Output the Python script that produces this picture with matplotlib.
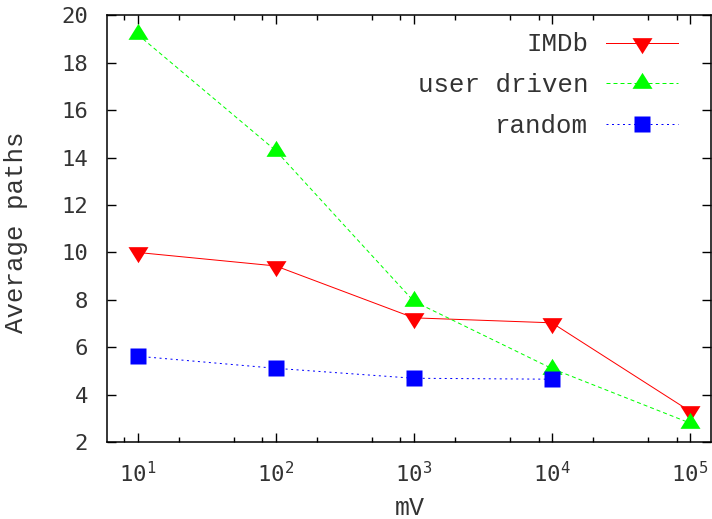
import math
import matplotlib
matplotlib.use("Agg")
import matplotlib.pyplot as plt
from matplotlib.ticker import LogLocator, FixedLocator, NullFormatter, FuncFormatter

# values
mv = [10, 100, 1000, 10000, 100000]
imdb = [10.0, 9.43, 7.24, 7.03, 3.3]
user_driven = [19.2, 14.3, 7.94, 5.1, 2.8]
mv_random = [10, 100, 1000, 10000]
random_paths = [5.62, 5.11, 4.69, 4.65]

PX = 72.0 / 100  # points per pixel at dpi 100

# gnuplot-like triangles, centred on their centroid, 20px wide, 16px tall
tri_up = [(0, 10.67), (-10, -5.33), (10, -5.33)]
tri_down = [(0, -10.67), (-10, 5.33), (10, 5.33)]
tri_ms = 2 * 10.67 * PX

tick_font = "DejaVu Sans Mono"
label_font = "Liberation Mono"
text_col = "#333333"

fig = plt.figure(figsize=(7.12, 5.19), dpi=100)
ax = fig.add_axes([107 / 712, 1 - 442 / 519, (711 - 107) / 712, (442 - 15.5) / 519])

ax.plot(mv, imdb, color="#ff0000", lw=PX, marker=tri_down, ms=tri_ms,
        mec="none", label="IMDb")
ax.plot(mv, user_driven, color="#00ff00", lw=PX, marker=tri_up, ms=tri_ms,
        mec="none", dashes=(4, 3), label="user driven")
ax.plot(mv_random, random_paths, color="#0000ff", lw=PX, marker="s",
        ms=16 * PX, mec="none", dashes=(2, 3.5), label="random")

ax.set_xscale("log")
ax.set_xlim(6, 1.42e5)
ax.set_ylim(2, 20)

ax.xaxis.set_major_locator(FixedLocator(mv))
ax.xaxis.set_minor_locator(LogLocator(base=10, subs=(2, 5, 8)))
ax.xaxis.set_minor_formatter(NullFormatter())
ax.xaxis.set_major_formatter(FuncFormatter(
    lambda v, p: r"$\mathregular{10^{%d}}$" % round(math.log10(v))))
ax.set_yticks(range(2, 21, 2))

ax.tick_params(which="both", direction="in", top=True, right=True,
               width=1.0, colors="black", labelcolor=text_col)
ax.tick_params(which="major", length=9 * PX)
ax.tick_params(which="minor", length=5 * PX)
ax.tick_params(axis="y", pad=13.5)
ax.tick_params(axis="x", pad=14)
for lab in ax.get_xticklabels() + ax.get_yticklabels():
    lab.set_family(tick_font)
    lab.set_fontsize(16)

for sp in ax.spines.values():
    sp.set_linewidth(1.1)

# axis titles placed like gnuplot's
fig.text(410 / 712, 1 - 508 / 519, "mV", family=label_font, fontsize=18,
         color=text_col, ha="center", va="center")
fig.text(16 / 712, 1 - 232 / 519, "Average paths", family=label_font,
         fontsize=18.5, color=text_col, ha="center", va="center", rotation=90)

leg = ax.legend(loc="upper right", bbox_to_anchor=(1 - 33 / 604, 1 - 17 / 426.5),
                frameon=False, markerfirst=False, handlelength=2.8,
                handletextpad=0.7, labelspacing=0.65, borderpad=0,
                borderaxespad=0, prop={"family": label_font, "size": 18.5})
for t in leg.get_texts():
    t.set_color(text_col)

fig.savefig("out.png", dpi=100)
